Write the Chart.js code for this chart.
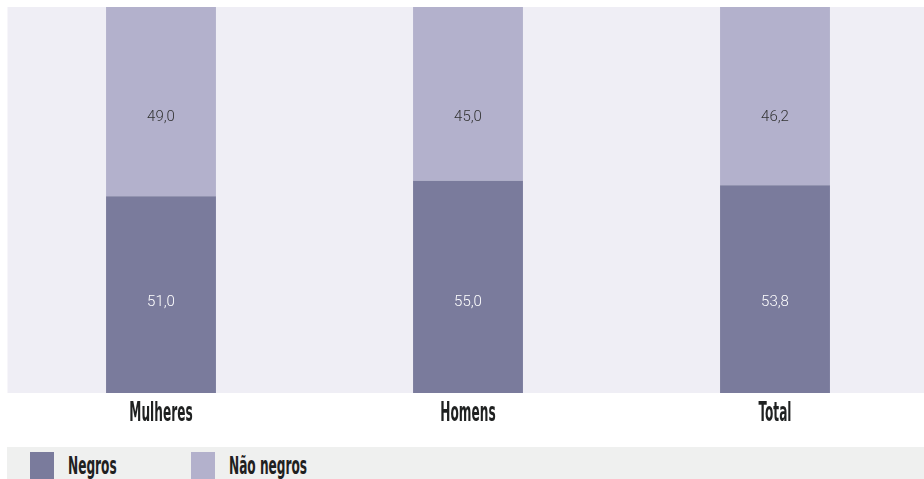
<!DOCTYPE html>
<html>
<head>
<meta charset="utf-8">
<script src="https://cdn.jsdelivr.net/npm/chart.js@4"></script>
<style>
  html, body { margin: 0; padding: 0; background: #fff; overflow: hidden; }
  #wrap { position: absolute; left: 0; top: 0; width: 931px; height: 447px; }
  #legend { position: absolute; left: 7px; top: 447px; width: 917px; height: 40px; background: #eff0ef; }
  .item { position: absolute; top: 5px; height: 27px; }
  .box { position: absolute; left: 0; top: 0; width: 24px; height: 27px; }
  .txt { position: absolute; top: 0px; white-space: nowrap; font: bold 25px "DejaVu Sans Condensed", "DejaVu Sans", sans-serif;
         color: #1f2121; transform: scaleX(0.54); transform-origin: left top; line-height: 27px; }
</style>
</head>
<body>
<div id="wrap"><canvas id="chart" width="931" height="447"></canvas></div>
<div id="legend"></div>
<script>
const categories = ['Mulheres', 'Homens', 'Total'];
const seriesNames = ['Negros', 'Não negros'];
const negros = [51.0, 55.0, 53.8];
const naoNegros = [49.0, 45.0, 46.2];
const colors = ['#7a7b9c', '#b3b1cc'];

// fundo da area do grafico
const plotBg = {
  id: 'plotBg',
  beforeDatasetsDraw(chart) {
    const a = chart.chartArea;
    const ctx = chart.ctx;
    ctx.save();
    ctx.fillStyle = '#efeef5';
    ctx.fillRect(a.left, a.top, chart.width - a.left, a.bottom - a.top);
    ctx.restore();
  }
};

// rotulos de valor dentro das barras
const valueLabels = {
  id: 'valueLabels',
  afterDatasetsDraw(chart) {
    const ctx = chart.ctx;
    const y = chart.scales.y;
    const labelAt = [23.5, 71.5];
    const textColor = ['#ffffff', '#333333'];
    ctx.save();
    ctx.font = '300 15px Roboto, "Liberation Sans", sans-serif';
    ctx.textAlign = 'center';
    ctx.textBaseline = 'middle';
    chart.data.datasets.forEach((ds, i) => {
      chart.getDatasetMeta(i).data.forEach((bar, j) => {
        ctx.fillStyle = textColor[i];
        ctx.fillText(ds.data[j].toFixed(1).replace('.', ','), bar.x, y.getPixelForValue(labelAt[i]));
      });
    });
    ctx.restore();
  }
};

// categorias do eixo x em fonte condensada
const condensedTicks = {
  id: 'condensedTicks',
  afterDraw(chart) {
    const ctx = chart.ctx;
    const x = chart.scales.x;
    ctx.save();
    ctx.font = 'bold 26px "DejaVu Sans Condensed", "DejaVu Sans", sans-serif';
    ctx.fillStyle = '#1f2121';
    ctx.textAlign = 'center';
    ctx.textBaseline = 'alphabetic';
    x.ticks.forEach((t, i) => {
      ctx.save();
      ctx.translate(x.getPixelForTick(i), x.top + 28);
      ctx.scale(0.52, 1);
      ctx.fillText(x.getLabelForValue(t.value), 0, 0);
      ctx.restore();
    });
    ctx.restore();
  }
};

new Chart(document.getElementById('chart'), {
  type: 'bar',
  data: {
    labels: categories,
    datasets: [
      { label: seriesNames[0], data: negros, backgroundColor: colors[0], borderWidth: 0 },
      { label: seriesNames[1], data: naoNegros, backgroundColor: colors[1], borderWidth: 0 }
    ]
  },
  options: {
    responsive: false,
    animation: false,
    devicePixelRatio: 1,
    layout: { padding: { top: 7, right: 2.5, left: 7.5, bottom: 0 } },
    datasets: { bar: { categoryPercentage: 1, barPercentage: 0.358 } },
    plugins: { legend: { display: false }, tooltip: { enabled: false } },
    scales: {
      x: {
        stacked: true,
        grid: { display: false },
        border: { display: false },
        ticks: { display: false },
        afterFit(s) { s.height = 54; }
      },
      y: { stacked: true, min: 0, max: 100, display: false }
    }
  },
  plugins: [plotBg, valueLabels, condensedTicks]
});

// legenda
const legend = document.getElementById('legend');
const lefts = [23, 184];
seriesNames.forEach((name, i) => {
  const it = document.createElement('div');
  it.className = 'item';
  it.style.left = lefts[i] + 'px';
  it.innerHTML = '<div class="box" style="background:' + colors[i] + '"></div><div class="txt" style="left:38px">' + name + '</div>';
  legend.appendChild(it);
});
</script>
</body>
</html>
